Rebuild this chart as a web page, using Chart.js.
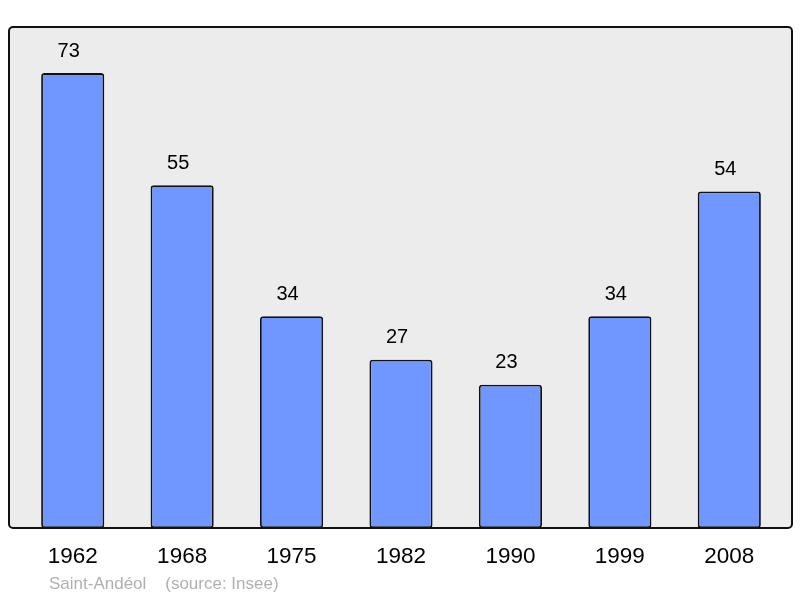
<!DOCTYPE html>
<html><head><meta charset="utf-8">
<script src="https://cdn.jsdelivr.net/npm/chart.js@4/dist/chart.umd.min.js"></script>
<style>html,body{margin:0;padding:0;background:#fff}#w{width:800px;height:598px}</style>
</head><body><div id="w"><canvas id="c" width="800" height="598"></canvas></div>
<script>
const categories = ["1962","1968","1975","1982","1990","1999","2008"];
const populations = [73,55,34,27,23,34,54];
const sourceText = "Saint-Andéol    (source: Insee)";

const framePlugin = {
  id:'frame',
  beforeDatasetsDraw(chart){
    const {ctx, chartArea:a} = chart;
    ctx.save();
    ctx.beginPath();
    ctx.roundRect(9, a.top, 783, a.bottom - a.top, 4);
    ctx.fillStyle = '#ececec';
    ctx.fill();
    ctx.restore();
  },
  afterDatasetsDraw(chart){
    const {ctx, chartArea:a} = chart;
    ctx.save();
    ctx.beginPath();
    ctx.roundRect(9, a.top, 783, a.bottom - a.top, 4);
    ctx.lineWidth = 2;
    ctx.strokeStyle = '#111';
    ctx.stroke();
    const meta = chart.getDatasetMeta(0);
    ctx.fillStyle = '#000';
    ctx.font = '20px "Liberation Sans", Arial, sans-serif';
    ctx.textAlign = 'center';
    ctx.textBaseline = 'middle';
    meta.data.forEach((bar,i)=>{
      ctx.fillText(String(populations[i]), bar.x - 4, bar.y - 22);
    });
    ctx.fillStyle = '#b0b0b0';
    ctx.font = '17px "Liberation Sans", Arial, sans-serif';
    ctx.textAlign = 'left';
    ctx.fillText(sourceText, 49, 584);
    ctx.restore();
  }
};

new Chart(document.getElementById('c'), {
  type:'bar',
  data:{labels:categories, datasets:[{data:populations, backgroundColor:'#7097ff', borderColor:'#111', borderWidth:1.8, borderRadius:3, borderSkipped:false, barPercentage:0.577, categoryPercentage:1}]},
  options:{
    responsive:false, animation:false,
    layout:{padding:{left:18, right:16, top:27, bottom:13}},
    plugins:{legend:{display:false}, tooltip:{enabled:false}},
    scales:{
      x:{grid:{display:false, drawTicks:false}, border:{display:false},
         ticks:{color:'#000', padding:15, font:{size:22.5, family:'"Liberation Sans", Arial, sans-serif'}}},
      y:{display:false, min:0, max:80.4}
    }
  },
  plugins:[framePlugin]
});
</script></body></html>
